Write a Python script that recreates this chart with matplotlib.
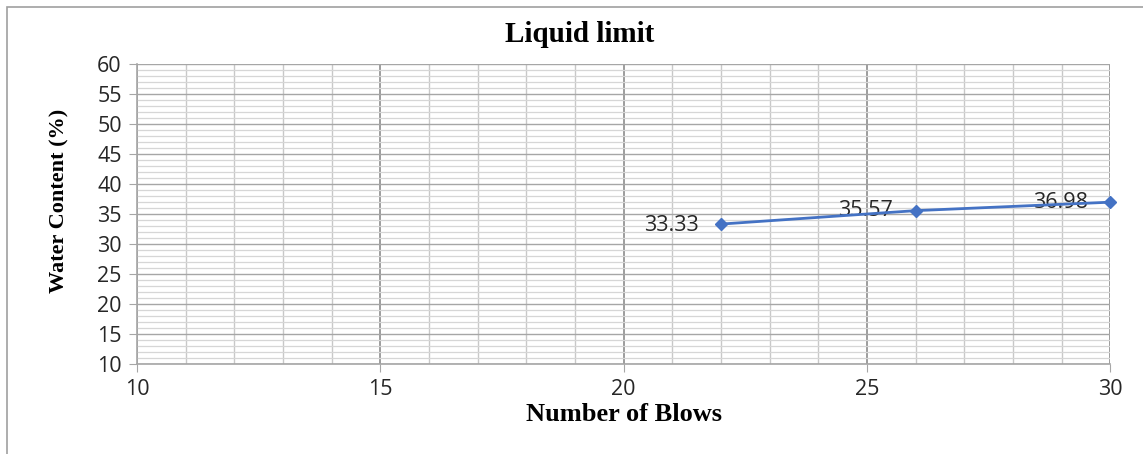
import matplotlib
matplotlib.use("Agg")
import matplotlib.pyplot as plt
import matplotlib.patches as mpatches
from matplotlib.ticker import MultipleLocator

blows = [22, 26, 30]
water = [33.33, 35.57, 36.98]
point_labels = ["33.33", "35.57", "36.98"]

fig = plt.figure(figsize=(11.43, 4.54), dpi=100)
ax = fig.add_axes([0.1199, 0.198, 0.8514, 0.661])

# outer frame of the chart area
fig.patches.append(mpatches.Rectangle((7 / 1143, -0.01), 1.1, 1 - 7 / 454 + 0.01,
                                      transform=fig.transFigure, fill=False,
                                      edgecolor="#a0a0a0", linewidth=1.2))

ax.set_xlim(10, 30)
ax.set_ylim(10, 60)
ax.xaxis.set_major_locator(MultipleLocator(5))
ax.xaxis.set_minor_locator(MultipleLocator(1))
ax.yaxis.set_major_locator(MultipleLocator(5))
ax.yaxis.set_minor_locator(MultipleLocator(1))

ax.grid(which="major", axis="x", color="#8c8c8c", linewidth=1.2)
ax.grid(which="minor", axis="x", color="#c8c8c8", linewidth=1.0)
ax.grid(which="major", axis="y", color="#a6a6a6", linewidth=1.0)
ax.grid(which="minor", axis="y", color="#d6d6d6", linewidth=0.9)
ax.set_axisbelow(True)

for s in ["top", "right"]:
    ax.spines[s].set_visible(False)
ax.spines["left"].set_color("#a6a6a6")
ax.spines["bottom"].set_color("#a6a6a6")
ax.spines["left"].set_linewidth(1.2)
ax.spines["bottom"].set_linewidth(1.2)

ax.tick_params(which="major", length=6, color="#a6a6a6", labelsize=15.5,
               labelcolor="#262626", pad=5)
ax.tick_params(which="minor", length=0)
for lab in ax.get_xticklabels() + ax.get_yticklabels():
    lab.set_family("Open Sans")

ax.plot(blows, water, color="#4472C4", linewidth=2, marker="D", markersize=6,
        clip_on=False, zorder=5)

offsets = [(-16, -1), (-16, 0), (-16, 0)]
for x, y, t, off in zip(blows, water, point_labels, offsets):
    ax.annotate(t, (x, y), xytext=off, textcoords="offset points",
                fontsize=15.5, color="#262626", family="Open Sans",
                ha="right", va="center")

fig.text(0.507, 0.925, "Liquid limit", ha="center", va="center",
         fontsize=21, fontweight="bold", family="Liberation Serif")
ax.set_xlabel("Number of Blows", fontsize=19, fontweight="bold",
              family="Liberation Serif", labelpad=2)
ax.set_ylabel("Water Content (%)", fontsize=16, fontweight="bold",
              family="Liberation Serif")
ax.yaxis.set_label_coords(-0.069, 0.545)

fig.savefig("out.png", dpi=100)
